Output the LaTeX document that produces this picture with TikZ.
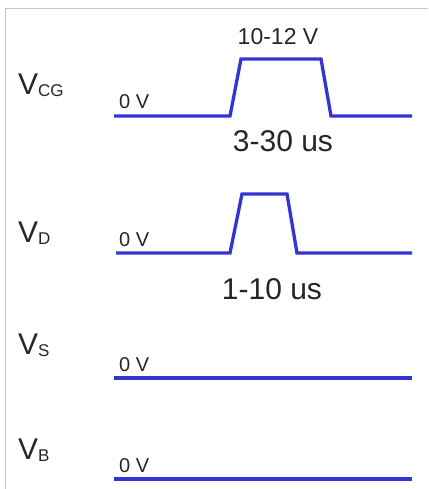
\documentclass[tikz,border=0pt]{standalone}
\usepackage{fontspec}
\setmainfont{Liberation Sans}
\definecolor{sig}{HTML}{3434D2}
\definecolor{frame}{HTML}{C4C4C4}
\tikzset{
  wave/.style={draw=sig, line width=3.3pt, line join=miter},
  vlabel/.style={anchor=base west, inner sep=0pt, text=black!85, font=\fontsize{30}{30}\selectfont},
  zerov/.style={anchor=base west, inner sep=0pt, text=black!85, font=\fontsize{20}{20}\selectfont},
  timelbl/.style={anchor=base, inner sep=0pt, text=black!85, font=\fontsize{30}{30}\selectfont},
  vlvl/.style={anchor=base, inner sep=0pt, text=black!85, font=\fontsize{23}{23}\selectfont}
}
\newcommand{\subtxt}[1]{\raisebox{-2pt}{\fontsize{17}{17}\selectfont #1}}
\begin{document}
\begin{tikzpicture}[x=1pt,y=-1pt]
\useasboundingbox (0,0) rectangle (428,489);
\fill[white] (0,0) rectangle (428,489);
\draw[frame, line width=1pt] (5,489) -- (5,9) -- (428,9);

% labels
\node[vlabel] (lcg) at (18,95) {V\subtxt{CG}};
\node[vlabel] (ld) at (18,242) {V\subtxt{D}};
\node[vlabel] (ls) at (18,354) {V\subtxt{S}};
\node[vlabel] (lb) at (18,459) {V\subtxt{B}};

% VCG
\draw[wave] (114,116) -- (230,116) -- (241,59) -- (321,59) -- (331,116) -- (412,116);
\node[zerov] (z1) at (119,109) {0 V};
\node[vlvl] (hi) at (278,45) {10-12 V};
\node[timelbl] (t1) at (283,151) {3-30 us};

% VD
\draw[wave] (116,253) -- (230,253) -- (242,194) -- (287,194) -- (297,253) -- (412,253);
\node[zerov] (z2) at (119,246) {0 V};
\node[timelbl] (t2) at (272,299) {1-10 us};

% VS
\draw[wave] (114,378) -- (412,378);
\node[zerov] (z3) at (119,371) {0 V};

% VB
\draw[wave] (114,479) -- (412,479);
\node[zerov] (z4) at (119,472) {0 V};
\end{tikzpicture}
\end{document}
